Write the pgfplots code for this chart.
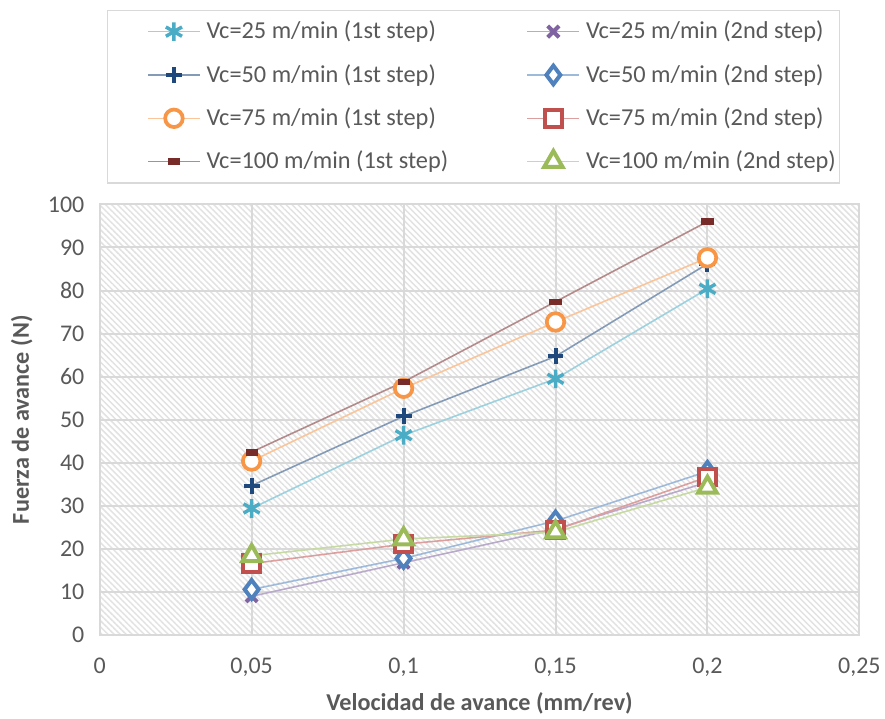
\documentclass[border=0pt]{standalone}
\usepackage{fontspec}
\setmainfont{Carlito}
\usepackage{pgfplots}
\pgfplotsset{compat=1.18}
\usetikzlibrary{patterns.meta}
\definecolor{c1}{HTML}{4BACC6}
\definecolor{c2}{HTML}{1F497D}
\definecolor{c3}{HTML}{F79646}
\definecolor{c4}{HTML}{772C2A}
\definecolor{c5}{HTML}{8064A2}
\definecolor{c6}{HTML}{4F81BD}
\definecolor{c7}{HTML}{C0504D}
\definecolor{c8}{HTML}{9BBB59}
\definecolor{txt}{HTML}{595959}
\definecolor{grd}{HTML}{D9D9D9}
\definecolor{hat}{HTML}{E2E2E2}
\begin{document}
\begin{tikzpicture}
\begin{axis}[
  scale only axis, width=571.5pt, height=324pt,
  xmin=0, xmax=0.25, ymin=0, ymax=100,
  xtick={0,0.05,0.1,0.15,0.2,0.25},
  xticklabels={0,{0,05},{0,1},{0,15},{0,2},{0,25}},
  ytick={0,10,...,100},
  /pgf/number format/assume math mode=true,
  grid=major, grid style={grd, line width=1.5pt},
  axis line style={grd, line width=1.5pt},
  major tick length=0pt,
  tick label style={font=\fontsize{18}{21}\selectfont, text=txt},
  xticklabel style={yshift=-14pt},
  yticklabel style={xshift=-8pt},
  xlabel={Velocidad de avance (mm/rev)},
  ylabel={Fuerza de avance (N)},
  xlabel style={font=\bfseries\fontsize{18.2}{21}\selectfont, text=txt, at={(axis description cs:0.5,-0.159)}, anchor=center},
  ylabel style={font=\bfseries\fontsize{18.2}{21}\selectfont, text=txt, at={(axis description cs:-0.1026,0.5)}, anchor=center},
  axis background/.style={fill=white, postaction={pattern={Lines[angle=-45,distance=3.2pt,line width=1.1pt]}, pattern color=hat}},
  legend columns=2, legend cell align=left,
  legend style={at={(axis description cs:0.0092,1.452)}, anchor=north west, draw=grd, line width=1pt, fill=white,
    font=\fontsize{18.3}{22}\selectfont, text=txt, inner xsep=3pt, inner ysep=8pt,
    nodes={inner xsep=0pt, inner ysep=0pt, text height=13.5pt, text depth=2.5pt},
    row sep=16.6pt,
    /tikz/every even column/.append style={column sep=32pt}},
  legend image code/.code={\path (0pt,0pt) (70.5pt,0pt); \draw[mark repeat=2,mark phase=2,#1] plot coordinates {(27pt,0pt) (46.5pt,0pt) (66pt,0pt)};},
]
% Vc=25 1st
\addplot[c1!55, line width=1.2pt, mark=asterisk, mark size=7pt, mark options={c1, line width=2.6pt, solid}]
  coordinates {(0.05,29.4) (0.1,46.4) (0.15,59.5) (0.2,80.4)};
\addlegendentry{Vc=25 m/min (1st step)}
% Vc=25 2nd
\addplot[c5!55, line width=1.2pt, mark=x, mark size=6pt, mark options={c5, line width=3pt, solid}]
  coordinates {(0.05,9.0) (0.1,16.8) (0.15,24.6) (0.2,35.5)};
\addlegendentry{Vc=25 m/min (2nd step)}
% Vc=50 1st
\addplot[c2!55, line width=1.2pt, mark=+, mark size=6pt, mark options={c2, line width=3pt, solid}]
  coordinates {(0.05,34.7) (0.1,50.8) (0.15,64.7) (0.2,86.2)};
\addlegendentry{Vc=50 m/min (1st step)}
% Vc=50 2nd
\addplot[c6!55, line width=1.2pt, mark=diamond*, mark size=7pt, mark options={draw=c6, fill=white, line width=3pt, solid}]
  coordinates {(0.05,10.6) (0.1,17.8) (0.15,26.5) (0.2,38.0)};
\addlegendentry{Vc=50 m/min (2nd step)}
% Vc=75 1st
\addplot[c3!55, line width=1.2pt, mark=*, mark size=6.6pt, mark options={draw=c3, fill=white, line width=2.8pt, solid}]
  coordinates {(0.05,40.4) (0.1,57.3) (0.15,72.7) (0.2,87.6)};
\addlegendentry{Vc=75 m/min (1st step)}
% Vc=75 2nd
\addplot[c7!55, line width=1.2pt, mark=square*, mark size=6.2pt, mark options={draw=c7, fill=white, line width=3pt, solid}]
  coordinates {(0.05,16.6) (0.1,21.1) (0.15,24.4) (0.2,36.7)};
\addlegendentry{Vc=75 m/min (2nd step)}
% Vc=100 1st
\addplot[c4!55, line width=1.2pt, mark=square*, mark size=4.3pt, mark options={draw=c4, fill=c4, line width=0.5pt, yscale=0.5, solid}]
  coordinates {(0.05,42.5) (0.1,58.8) (0.15,77.4) (0.2,96.0)};
\addlegendentry{Vc=100 m/min (1st step)}
% Vc=100 2nd
\addplot[c8!55, line width=1.2pt, mark=triangle*, mark size=8pt, mark options={draw=c8, fill=white, line width=3pt, solid}]
  coordinates {(0.05,18.4) (0.1,22.3) (0.15,23.9) (0.2,34.3)};
\addlegendentry{Vc=100 m/min (2nd step)}
\end{axis}
\path (-75pt,-62.25pt) rectangle (588.75pt,477.75pt);
\end{tikzpicture}
\end{document}
